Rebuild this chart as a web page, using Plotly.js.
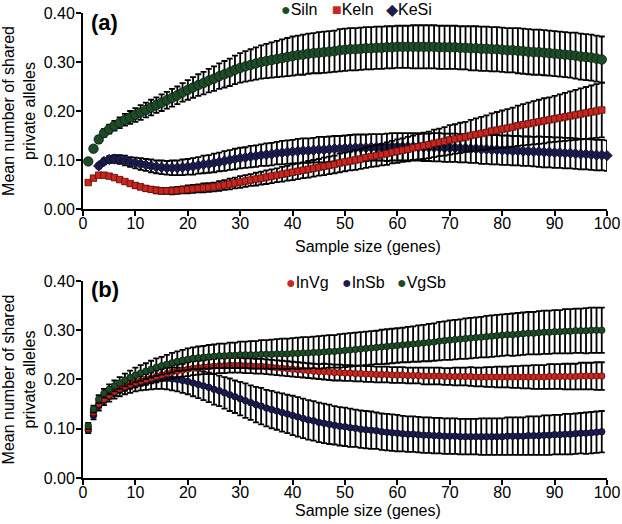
<!DOCTYPE html>
<html>
<head>
<meta charset="utf-8">
<script src="https://cdn.plot.ly/plotly-3.0.1.min.js"></script>
<style>
  html, body { margin: 0; padding: 0; background: #fff; }
  #chart { width: 622px; height: 524px; }
</style>
</head>
<body>
<div id="chart"></div>
<script>
var genes = [1,2,3,4,5,6,7,8,9,10,11,12,13,14,15,16,17,18,19,20,
  21,22,23,24,25,26,27,28,29,30,31,32,33,34,35,36,37,38,39,40,
  41,42,43,44,45,46,47,48,49,50,51,52,53,54,55,56,57,58,59,60,
  61,62,63,64,65,66,67,68,69,70,71,72,73,74,75,76,77,78,79,80,
  81,82,83,84,85,86,87,88,89,90,91,92,93,94,95,96,97,98,99,100];

// panel (a)
var siln = [0.097,0.123,0.142,0.155,0.163,0.170,0.176,0.182,0.187,0.192,
  0.197,0.202,0.207,0.212,0.217,0.222,0.227,0.232,0.238,0.243,
  0.248,0.253,0.257,0.262,0.266,0.271,0.275,0.279,0.284,0.288,
  0.291,0.294,0.297,0.300,0.302,0.304,0.306,0.308,0.310,0.312,
  0.314,0.315,0.317,0.318,0.319,0.320,0.321,0.322,0.324,0.325,
  0.326,0.326,0.327,0.328,0.328,0.329,0.329,0.330,0.330,0.331,
  0.331,0.331,0.331,0.331,0.331,0.331,0.331,0.330,0.330,0.330,
  0.330,0.329,0.329,0.328,0.328,0.327,0.327,0.326,0.326,0.325,
  0.324,0.324,0.323,0.322,0.321,0.320,0.320,0.319,0.318,0.317,
  0.316,0.315,0.314,0.313,0.311,0.310,0.309,0.307,0.305];
var silnErr = [0.004,0.006,0.007,0.008,0.009,0.010,0.011,0.012,0.013,0.014,
  0.015,0.015,0.016,0.016,0.017,0.017,0.018,0.018,0.019,0.020,
  0.021,0.022,0.023,0.024,0.025,0.026,0.027,0.028,0.029,0.030,
  0.031,0.032,0.033,0.034,0.035,0.036,0.037,0.038,0.039,0.040,
  0.040,0.041,0.041,0.041,0.042,0.042,0.042,0.042,0.043,0.043,
  0.043,0.043,0.043,0.043,0.043,0.043,0.043,0.043,0.043,0.043,
  0.043,0.043,0.044,0.044,0.044,0.044,0.044,0.044,0.044,0.044,
  0.044,0.044,0.044,0.045,0.045,0.045,0.045,0.045,0.045,0.045,
  0.045,0.045,0.046,0.046,0.046,0.046,0.046,0.046,0.046,0.046,
  0.046,0.046,0.046,0.047,0.047,0.047,0.047,0.047,0.047];

var keln = [0.054,0.063,0.069,0.069,0.067,0.064,0.060,0.056,0.052,0.048,
  0.045,0.042,0.040,0.038,0.037,0.037,0.037,0.038,0.039,0.040,
  0.041,0.042,0.043,0.044,0.045,0.047,0.049,0.051,0.053,0.055,
  0.057,0.059,0.061,0.063,0.065,0.067,0.069,0.071,0.073,0.075,
  0.077,0.079,0.081,0.083,0.085,0.087,0.089,0.091,0.094,0.096,
  0.098,0.100,0.102,0.105,0.107,0.109,0.111,0.113,0.116,0.118,
  0.120,0.122,0.125,0.127,0.129,0.131,0.134,0.136,0.138,0.141,
  0.143,0.145,0.147,0.150,0.152,0.154,0.156,0.159,0.161,0.163,
  0.165,0.167,0.170,0.172,0.174,0.176,0.178,0.180,0.182,0.184,
  0.186,0.188,0.190,0.192,0.194,0.196,0.198,0.200,0.202];
var kelnErr = [0.003,0.003,0.003,0.003,0.004,0.004,0.004,0.004,0.004,0.005,
  0.005,0.005,0.005,0.006,0.006,0.006,0.007,0.007,0.007,0.008,
  0.008,0.008,0.009,0.009,0.009,0.010,0.010,0.011,0.011,0.012,
  0.012,0.012,0.013,0.013,0.014,0.014,0.014,0.015,0.015,0.016,
  0.016,0.016,0.017,0.017,0.017,0.018,0.018,0.018,0.019,0.019,
  0.019,0.020,0.020,0.021,0.021,0.022,0.022,0.023,0.023,0.024,
  0.024,0.025,0.025,0.026,0.027,0.027,0.028,0.028,0.029,0.030,
  0.030,0.031,0.031,0.032,0.033,0.034,0.035,0.036,0.037,0.038,
  0.039,0.040,0.041,0.042,0.043,0.044,0.045,0.046,0.046,0.047,
  0.048,0.049,0.050,0.051,0.052,0.053,0.054,0.055,0.056];

// KeSi starts at 3 genes
var kesi = [0.088,0.097,0.101,0.102,0.101,0.099,0.096,0.094,
  0.092,0.090,0.088,0.086,0.085,0.084,0.084,0.084,0.085,0.086,
  0.087,0.089,0.091,0.092,0.094,0.096,0.098,0.100,0.102,0.104,
  0.105,0.107,0.108,0.110,0.111,0.112,0.114,0.115,0.116,0.117,
  0.118,0.119,0.119,0.120,0.121,0.121,0.122,0.123,0.123,0.124,
  0.124,0.125,0.125,0.125,0.126,0.126,0.126,0.126,0.127,0.127,
  0.127,0.127,0.127,0.127,0.126,0.126,0.126,0.126,0.125,0.125,
  0.125,0.124,0.124,0.123,0.123,0.122,0.122,0.121,0.121,0.120,
  0.120,0.119,0.119,0.118,0.118,0.117,0.117,0.116,0.116,0.115,
  0.115,0.114,0.114,0.113,0.112,0.112,0.111,0.110,0.110,0.109];
var kesiErr = [0.005,0.006,0.007,0.008,0.009,0.010,0.010,0.011,
  0.012,0.012,0.013,0.013,0.014,0.014,0.015,0.015,0.016,0.016,
  0.017,0.017,0.018,0.018,0.019,0.019,0.020,0.020,0.021,0.021,
  0.021,0.022,0.022,0.022,0.023,0.023,0.023,0.024,0.024,0.024,
  0.025,0.025,0.025,0.025,0.026,0.026,0.026,0.026,0.026,0.026,
  0.027,0.027,0.027,0.027,0.027,0.027,0.027,0.028,0.028,0.028,
  0.028,0.028,0.028,0.028,0.028,0.028,0.029,0.029,0.029,0.029,
  0.029,0.029,0.029,0.029,0.029,0.030,0.030,0.030,0.030,0.030,
  0.030,0.030,0.030,0.030,0.030,0.030,0.031,0.031,0.031,0.031,
  0.031,0.031,0.031,0.031,0.031,0.031,0.031,0.031,0.031,0.031];

// panel (b)
var invg = [0.100,0.133,0.150,0.160,0.168,0.175,0.181,0.186,0.190,0.194,
  0.197,0.200,0.203,0.206,0.209,0.212,0.215,0.217,0.219,0.221,
  0.223,0.224,0.225,0.226,0.227,0.228,0.228,0.229,0.229,0.229,
  0.228,0.228,0.227,0.227,0.226,0.225,0.224,0.223,0.222,0.221,
  0.220,0.219,0.218,0.217,0.216,0.216,0.215,0.214,0.214,0.213,
  0.213,0.212,0.212,0.211,0.211,0.210,0.210,0.210,0.209,0.209,
  0.209,0.208,0.208,0.208,0.207,0.207,0.207,0.207,0.206,0.206,
  0.206,0.206,0.206,0.206,0.205,0.205,0.205,0.205,0.205,0.205,
  0.205,0.205,0.205,0.205,0.205,0.205,0.205,0.205,0.206,0.206,
  0.206,0.206,0.206,0.206,0.207,0.207,0.207,0.207,0.207];
var invgErr = [0.005,0.006,0.006,0.007,0.007,0.008,0.008,0.009,0.009,0.010,
  0.010,0.011,0.011,0.012,0.012,0.012,0.013,0.013,0.013,0.014,
  0.014,0.014,0.014,0.015,0.015,0.015,0.015,0.015,0.015,0.015,
  0.015,0.015,0.015,0.015,0.015,0.015,0.015,0.015,0.015,0.015,
  0.015,0.015,0.015,0.015,0.015,0.016,0.016,0.016,0.016,0.016,
  0.016,0.016,0.016,0.016,0.016,0.016,0.016,0.016,0.016,0.016,
  0.016,0.016,0.016,0.016,0.017,0.017,0.017,0.017,0.017,0.017,
  0.018,0.018,0.018,0.019,0.019,0.019,0.020,0.020,0.021,0.021,
  0.021,0.022,0.022,0.023,0.023,0.024,0.024,0.024,0.025,0.025,
  0.025,0.026,0.026,0.026,0.027,0.027,0.027,0.028,0.028];

var insb = [0.097,0.127,0.146,0.158,0.166,0.173,0.179,0.184,0.188,0.192,
  0.195,0.197,0.199,0.201,0.202,0.202,0.201,0.200,0.198,0.196,
  0.193,0.190,0.187,0.184,0.180,0.177,0.173,0.169,0.165,0.161,
  0.157,0.153,0.149,0.146,0.142,0.139,0.136,0.133,0.130,0.127,
  0.124,0.121,0.118,0.116,0.113,0.111,0.109,0.107,0.105,0.104,
  0.102,0.101,0.099,0.098,0.097,0.096,0.094,0.093,0.092,0.091,
  0.090,0.089,0.089,0.088,0.087,0.087,0.086,0.086,0.085,0.085,
  0.085,0.084,0.084,0.084,0.084,0.084,0.084,0.084,0.084,0.084,
  0.085,0.085,0.085,0.085,0.086,0.086,0.086,0.087,0.087,0.088,
  0.088,0.089,0.089,0.090,0.091,0.091,0.092,0.093,0.094];
var insbErr = [0.006,0.008,0.009,0.010,0.011,0.012,0.013,0.014,0.015,0.016,
  0.017,0.018,0.019,0.020,0.021,0.022,0.023,0.024,0.025,0.026,
  0.027,0.028,0.029,0.030,0.031,0.031,0.032,0.033,0.033,0.034,
  0.035,0.035,0.036,0.037,0.037,0.038,0.038,0.039,0.039,0.040,
  0.040,0.040,0.040,0.040,0.040,0.040,0.040,0.039,0.039,0.039,
  0.039,0.038,0.038,0.038,0.038,0.037,0.037,0.037,0.037,0.037,
  0.036,0.036,0.036,0.036,0.036,0.036,0.036,0.036,0.036,0.036,
  0.036,0.036,0.036,0.036,0.036,0.037,0.037,0.037,0.037,0.037,
  0.038,0.038,0.038,0.038,0.039,0.039,0.039,0.040,0.040,0.040,
  0.040,0.041,0.041,0.041,0.041,0.042,0.042,0.042,0.042];

var vgsb = [0.106,0.140,0.160,0.172,0.180,0.187,0.193,0.199,0.204,0.209,
  0.213,0.217,0.221,0.225,0.228,0.231,0.234,0.237,0.239,0.241,
  0.243,0.244,0.245,0.246,0.247,0.248,0.248,0.249,0.249,0.250,
  0.250,0.250,0.250,0.251,0.251,0.251,0.252,0.252,0.252,0.253,
  0.253,0.254,0.254,0.255,0.255,0.256,0.257,0.257,0.258,0.259,
  0.260,0.261,0.262,0.263,0.264,0.265,0.266,0.267,0.268,0.269,
  0.270,0.271,0.272,0.273,0.274,0.275,0.276,0.278,0.279,0.280,
  0.281,0.282,0.283,0.284,0.285,0.286,0.287,0.288,0.289,0.290,
  0.291,0.291,0.292,0.293,0.294,0.294,0.295,0.296,0.296,0.297,
  0.297,0.298,0.298,0.299,0.299,0.299,0.300,0.300,0.300];
var vgsbErr = [0.006,0.007,0.008,0.009,0.010,0.011,0.012,0.013,0.014,0.015,
  0.016,0.016,0.017,0.018,0.018,0.019,0.020,0.020,0.021,0.022,
  0.022,0.023,0.023,0.024,0.024,0.025,0.025,0.026,0.026,0.027,
  0.027,0.028,0.028,0.029,0.029,0.030,0.030,0.031,0.031,0.031,
  0.032,0.032,0.032,0.032,0.033,0.033,0.033,0.033,0.034,0.034,
  0.034,0.034,0.034,0.034,0.034,0.034,0.035,0.035,0.035,0.035,
  0.035,0.036,0.036,0.037,0.037,0.038,0.038,0.039,0.039,0.040,
  0.040,0.040,0.041,0.041,0.041,0.041,0.042,0.042,0.042,0.042,
  0.042,0.043,0.043,0.043,0.043,0.043,0.044,0.044,0.044,0.044,
  0.044,0.045,0.045,0.045,0.045,0.046,0.046,0.046,0.046];

var yTicks = [0, 0.1, 0.2, 0.3, 0.4];
var yTickText = ["0.00", "0.10", "0.20", "0.30", "0.40"];
var xTicks = [0, 10, 20, 30, 40, 50, 60, 70, 80, 90, 100];

var GREEN = "#1d4a27";
var RED = "#c9261f";
var NAVY = "#1c1c4c";
var FONT = "Arial, 'Liberation Sans', sans-serif";

function series(x, y, err, xa, ya, sym, size, color, edge) {
  return {
    x: x, y: y, xaxis: xa, yaxis: ya,
    type: "scatter", mode: "markers", showlegend: false, cliponaxis: false,
    marker: { symbol: sym, size: size, color: color, line: { color: edge, width: 0.8 } },
    error_y: { type: "data", array: err, visible: true, color: "#000", thickness: 1.8, width: 3 }
  };
}

var data = [
  series(genes.slice(2, 100), kesi, kesiErr, "x", "y", "diamond", 8, NAVY, "#0a0a2a"),
  series(genes.slice(0, 99), keln, kelnErr, "x", "y", "square", 6.5, RED, "#5a0f0c"),
  series(genes.slice(0, 99), siln, silnErr, "x", "y", "circle", 9.5, GREEN, "#0b1e0f"),
  series(genes.slice(0, 99), insb, insbErr, "x2", "y2", "circle", 6.5, NAVY, "#0a0a2a"),
  series(genes.slice(0, 99), invg, invgErr, "x2", "y2", "circle", 6.5, RED, "#5a0f0c"),
  series(genes.slice(0, 99), vgsb, vgsbErr, "x2", "y2", "circle", 6.5, GREEN, "#0b1e0f")
];

function xAxis(anchor) {
  return {
    anchor: anchor, domain: [0, 1], range: [0, 100],
    tickvals: xTicks, ticks: "outside", ticklen: 5, tickwidth: 2, tickcolor: "#000",
    ticklabelposition: "outside", ticklabelstandoff: -6,
    showline: true, linewidth: 2, linecolor: "#000",
    showgrid: false, zeroline: false,
    tickfont: { family: FONT, size: 16, color: "#000" }
  };
}
function yAxis(anchor, dom) {
  return {
    anchor: anchor, domain: dom, range: [0, 0.4],
    tickvals: yTicks, ticktext: yTickText, ticks: "outside", ticklen: 5, tickwidth: 2, tickcolor: "#000",
    ticklabelposition: "outside", ticklabelstandoff: -2,
    showline: true, linewidth: 2, linecolor: "#000",
    showgrid: false, zeroline: false,
    tickfont: { family: FONT, size: 16, color: "#000" },
    title: { text: "Mean number of shared<br>private alleles", font: { family: FONT, size: 16, color: "#000" }, standoff: 4 }
  };
}

// px -> paper helpers (plot area 83..607 x 13..478)
function px(x) { return (x - 83) / 524; }
function py(y) { return (478 - y) / 465; }

function legendItem(x, y, glyph, color, name) {
  return {
    xref: "paper", yref: "paper", x: px(x), y: py(y), xanchor: "left", yanchor: "middle",
    showarrow: false, font: { family: FONT, size: 16, color: "#000" },
    text: '<span style="color:' + color + '">' + glyph + '</span>' + name
  };
}

var annotations = [
  { xref: "paper", yref: "paper", x: px(89), y: py(22), xanchor: "left", yanchor: "middle", showarrow: false,
    text: "<b>(a)</b>", font: { family: FONT, size: 22, color: "#000" } },
  { xref: "paper", yref: "paper", x: px(89), y: py(289), xanchor: "left", yanchor: "middle", showarrow: false,
    text: "<b>(b)</b>", font: { family: FONT, size: 22, color: "#000" } },
  { xref: "paper", yref: "paper", x: px(368), y: py(247), xanchor: "center", yanchor: "middle", showarrow: false,
    text: "Sample size (genes)", font: { family: FONT, size: 16, color: "#000" } },
  { xref: "paper", yref: "paper", x: px(368), y: py(510), xanchor: "center", yanchor: "middle", showarrow: false,
    text: "Sample size (genes)", font: { family: FONT, size: 16, color: "#000" } },
  legendItem(279, 9, "●", GREEN, "Siln"),
  legendItem(330, 9, "■", RED, "Keln"),
  legendItem(384, 9, "◆", NAVY, "KeSi"),
  legendItem(284, 282, "●", RED, "InVg"),
  legendItem(340, 282, "●", NAVY, "InSb"),
  legendItem(395, 282, "●", GREEN, "VgSb")
];

var layout = {
  width: 622, height: 524,
  margin: { l: 83, r: 15, t: 13, b: 46 },
  paper_bgcolor: "#fff", plot_bgcolor: "#fff",
  showlegend: false,
  font: { family: FONT, color: "#000" },
  xaxis: xAxis("y"),
  yaxis: yAxis("x", [0.5785, 1]),
  xaxis2: xAxis("y2"),
  yaxis2: yAxis("x2", [0, 0.4237]),
  annotations: annotations
};

Plotly.newPlot("chart", data, layout, { displayModeBar: false, staticPlot: true });
</script>
</body>
</html>
